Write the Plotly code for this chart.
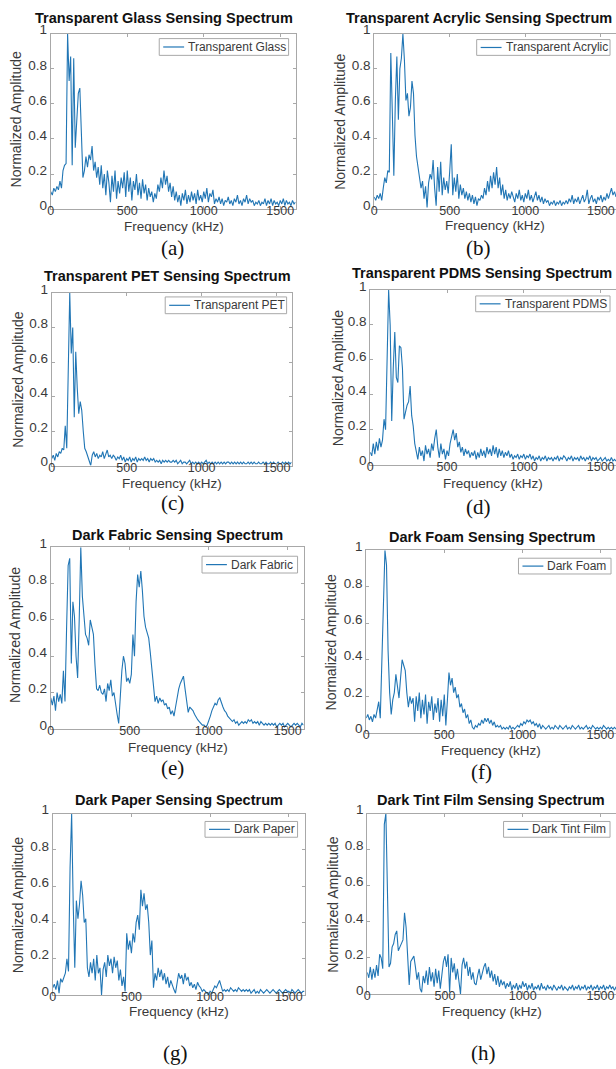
import plotly.graph_objects as go

# ---------------- data ----------------
FREQ_KHZ = list(range(0, 1601, 10))

GLASS = [
    0.10, 0.08, 0.12, 0.10, 0.13, 0.11, 0.16, 0.12, 0.22, 0.25,
    0.26, 1.00, 0.73, 0.87, 0.25, 0.86, 0.35, 0.52, 0.66, 0.69,
    0.38, 0.18, 0.22, 0.30, 0.24, 0.31, 0.28, 0.36, 0.22, 0.27,
    0.18, 0.24, 0.14, 0.25, 0.12, 0.20, 0.08, 0.22, 0.15, 0.04,
    0.19, 0.10, 0.22, 0.06, 0.16, 0.09, 0.18, 0.12, 0.21, 0.07,
    0.22, 0.10, 0.18, 0.05, 0.16, 0.11, 0.20, 0.08, 0.15, 0.06,
    0.17, 0.09, 0.14, 0.05, 0.12, 0.07, 0.10, 0.04, 0.09, 0.06,
    0.14, 0.10, 0.18, 0.12, 0.22, 0.14, 0.19, 0.10, 0.15, 0.07,
    0.13, 0.05, 0.10, 0.04, 0.08, 0.02, 0.09, 0.05, 0.11, 0.03,
    0.08, 0.04, 0.10, 0.05, 0.09, 0.03, 0.11, 0.05, 0.08, 0.04,
    0.10, 0.06, 0.12, 0.04, 0.09, 0.07, 0.11, 0.03, 0.06, 0.04,
    0.07, 0.03, 0.06, 0.02, 0.05, 0.04, 0.07, 0.03, 0.05, 0.02,
    0.06, 0.04, 0.08, 0.03, 0.05, 0.02, 0.06, 0.04, 0.08, 0.03,
    0.06, 0.04, 0.05, 0.02, 0.04, 0.03, 0.05, 0.02, 0.04, 0.03,
    0.06, 0.02, 0.05, 0.03, 0.06, 0.02, 0.05, 0.03, 0.04, 0.02,
    0.05, 0.03, 0.06, 0.02, 0.05, 0.03, 0.04, 0.02, 0.05, 0.03,
    0.04,
]

ACRYLIC = [
    0.07, 0.05, 0.08, 0.06, 0.09, 0.05, 0.12, 0.18, 0.15, 0.22,
    0.21, 0.89, 0.55, 0.19, 0.62, 0.87, 0.51, 0.80, 0.86, 1.00,
    0.85, 0.62, 0.66, 0.53, 0.58, 0.73, 0.66, 0.42, 0.30, 0.24,
    0.19, 0.12, 0.16, 0.06, 0.13, 0.01, 0.15, 0.20, 0.17, 0.28,
    0.12, 0.02, 0.24, 0.10, 0.27, 0.08, 0.18, 0.11, 0.16, 0.09,
    0.22, 0.37, 0.08, 0.18, 0.10, 0.20, 0.06, 0.14, 0.08, 0.12,
    0.06, 0.10, 0.05, 0.09, 0.04, 0.08, 0.03, 0.07, 0.02, 0.06,
    0.05, 0.08, 0.06, 0.12, 0.08, 0.16, 0.10, 0.19, 0.12, 0.21,
    0.14, 0.24, 0.12, 0.18, 0.08, 0.14, 0.06, 0.11, 0.05, 0.09,
    0.06, 0.10, 0.07, 0.04, 0.09, 0.06, 0.11, 0.05, 0.08, 0.04,
    0.09, 0.06, 0.11, 0.05, 0.08, 0.04, 0.07, 0.10, 0.05, 0.08,
    0.04, 0.07, 0.03, 0.06, 0.04, 0.05, 0.02, 0.04, 0.03, 0.05,
    0.02, 0.04, 0.03, 0.05, 0.02, 0.04, 0.03, 0.05, 0.03, 0.06,
    0.04, 0.08, 0.03, 0.06, 0.04, 0.07, 0.03, 0.05, 0.08, 0.04,
    0.06, 0.11, 0.03, 0.06, 0.08, 0.04, 0.06, 0.03, 0.07, 0.05,
    0.08, 0.04, 0.07, 0.05, 0.09, 0.06, 0.10, 0.12, 0.08, 0.10,
    0.07,
]

PET = [
    0.04, 0.06, 0.03, 0.07, 0.05, 0.08, 0.07, 0.10, 0.09, 0.23,
    0.10, 0.50, 1.00, 0.65, 0.80, 0.28, 0.66, 0.45, 0.30, 0.37,
    0.32, 0.20, 0.10, 0.08, 0.05, 0.03, 0.00, 0.06, 0.08, 0.05,
    0.07, 0.04, 0.06, 0.05, 0.08, 0.04, 0.07, 0.09, 0.05, 0.06,
    0.04, 0.06, 0.05, 0.03, 0.05, 0.04, 0.06, 0.03, 0.05, 0.02,
    0.04, 0.03, 0.05, 0.02, 0.04, 0.03, 0.05, 0.02, 0.04, 0.03,
    0.04, 0.03, 0.05, 0.03, 0.04, 0.02, 0.04, 0.03, 0.04, 0.02,
    0.03, 0.02, 0.03, 0.01, 0.03, 0.02, 0.03, 0.02, 0.03, 0.02,
    0.02, 0.03, 0.02, 0.03, 0.01, 0.02, 0.03, 0.01, 0.02, 0.02,
    0.01, 0.02, 0.03, 0.01, 0.02, 0.01, 0.02, 0.01, 0.02, 0.01,
    0.02, 0.01, 0.02, 0.03, 0.01, 0.02, 0.01, 0.02, 0.01, 0.02,
    0.01, 0.02, 0.01, 0.02, 0.01, 0.02, 0.01, 0.02, 0.02, 0.01,
    0.02, 0.01, 0.02, 0.01, 0.02, 0.01, 0.02, 0.01, 0.02, 0.01,
    0.01, 0.02, 0.01, 0.02, 0.01, 0.02, 0.01, 0.01, 0.02, 0.01,
    0.01, 0.02, 0.01, 0.02, 0.01, 0.01, 0.02, 0.01, 0.02, 0.01,
    0.01, 0.02, 0.01, 0.01, 0.02, 0.01, 0.02, 0.01, 0.02, 0.01,
    0.02,
]

PDMS = [
    0.07, 0.05, 0.12, 0.06, 0.13, 0.08, 0.15, 0.10, 0.14, 0.26,
    0.20, 0.60, 1.00, 0.80, 0.25, 0.55, 0.76, 0.50, 0.47, 0.68,
    0.67, 0.55, 0.26, 0.30, 0.34, 0.36, 0.45, 0.28, 0.22, 0.12,
    0.07, 0.03, 0.10, 0.05, 0.08, 0.02, 0.11, 0.06, 0.09, 0.04,
    0.12, 0.08, 0.15, 0.20, 0.10, 0.04, 0.12, 0.06, 0.09, 0.03,
    0.08, 0.05, 0.12, 0.16, 0.20, 0.14, 0.18, 0.10, 0.13, 0.07,
    0.10, 0.05, 0.09, 0.06, 0.08, 0.04, 0.07, 0.05, 0.08, 0.03,
    0.07, 0.04, 0.09, 0.05, 0.08, 0.04, 0.10, 0.06, 0.09, 0.05,
    0.11, 0.06, 0.10, 0.04, 0.09, 0.05, 0.08, 0.04, 0.07, 0.05,
    0.08, 0.04, 0.06, 0.03, 0.05, 0.04, 0.06, 0.03, 0.05, 0.04,
    0.06, 0.03, 0.05, 0.04, 0.06, 0.03, 0.05, 0.02, 0.04, 0.03,
    0.05, 0.02, 0.04, 0.03, 0.05, 0.02, 0.04, 0.03, 0.04, 0.02,
    0.04, 0.03, 0.05, 0.02, 0.04, 0.03, 0.05, 0.04, 0.02, 0.04,
    0.03, 0.05, 0.02, 0.04, 0.03, 0.04, 0.02, 0.05, 0.03, 0.04,
    0.02, 0.04, 0.03, 0.05, 0.02, 0.04, 0.03, 0.04, 0.02, 0.03,
    0.04, 0.02, 0.03, 0.04, 0.02, 0.03, 0.02, 0.04, 0.02, 0.03,
    0.02,
]

FABRIC = [
    0.17, 0.13, 0.18, 0.10, 0.20, 0.15, 0.19, 0.14, 0.32, 0.15,
    0.55, 0.90, 0.94, 0.36, 0.70, 0.62, 0.40, 0.28, 0.60, 1.00,
    0.73, 0.62, 0.52, 0.50, 0.46, 0.60, 0.55, 0.52, 0.35, 0.22,
    0.21, 0.24, 0.20, 0.19, 0.22, 0.15, 0.25, 0.21, 0.27, 0.18,
    0.20, 0.13, 0.08, 0.03, 0.20, 0.32, 0.40, 0.36, 0.26, 0.28,
    0.25, 0.30, 0.52, 0.40, 0.70, 0.85, 0.78, 0.87, 0.76, 0.62,
    0.56, 0.53, 0.50, 0.42, 0.33, 0.25, 0.15, 0.18, 0.14, 0.17,
    0.15, 0.16, 0.13, 0.14, 0.11, 0.12, 0.08, 0.10, 0.07, 0.12,
    0.18, 0.22, 0.25, 0.27, 0.29, 0.22, 0.15, 0.09, 0.12, 0.11,
    0.10, 0.08, 0.06, 0.05, 0.04, 0.03, 0.02, 0.02, 0.01, 0.02,
    0.04, 0.07, 0.10, 0.12, 0.14, 0.13, 0.16, 0.17, 0.14, 0.12,
    0.10, 0.09, 0.07, 0.06, 0.05, 0.04, 0.05, 0.03, 0.04, 0.02,
    0.03, 0.04, 0.03, 0.04, 0.03, 0.05, 0.04, 0.05, 0.03, 0.04,
    0.03, 0.04, 0.02, 0.04, 0.03, 0.02, 0.03, 0.02, 0.03, 0.02,
    0.03, 0.02, 0.03, 0.01, 0.02, 0.03, 0.02, 0.03, 0.01, 0.02,
    0.03, 0.02, 0.01, 0.02, 0.03, 0.02, 0.03, 0.02, 0.01, 0.03,
    0.02,
]

FOAM = [
    0.08, 0.10, 0.07, 0.09, 0.06, 0.10, 0.08, 0.12, 0.17, 0.08,
    0.42, 0.70, 1.00, 0.92, 0.45, 0.22, 0.10, 0.18, 0.22, 0.32,
    0.26, 0.19, 0.30, 0.40, 0.37, 0.34, 0.22, 0.14, 0.20, 0.16,
    0.19, 0.06, 0.20, 0.12, 0.22, 0.08, 0.18, 0.10, 0.21, 0.05,
    0.17, 0.12, 0.20, 0.07, 0.16, 0.11, 0.19, 0.06, 0.18, 0.09,
    0.21, 0.04, 0.18, 0.33, 0.26, 0.30, 0.22, 0.25, 0.19, 0.21,
    0.14, 0.16, 0.11, 0.13, 0.08, 0.10, 0.05, 0.07, 0.03, 0.02,
    0.04, 0.03, 0.05, 0.04, 0.07, 0.05, 0.08, 0.06, 0.08, 0.05,
    0.07, 0.04, 0.06, 0.03, 0.04, 0.03, 0.04, 0.02, 0.03, 0.02,
    0.03, 0.02, 0.04, 0.02, 0.03, 0.02, 0.03, 0.04, 0.03, 0.05,
    0.04, 0.06, 0.05, 0.07, 0.06, 0.07, 0.05, 0.06, 0.04, 0.05,
    0.03, 0.05, 0.02, 0.04, 0.03, 0.02, 0.03, 0.04, 0.02, 0.03,
    0.02, 0.04, 0.03, 0.02, 0.04, 0.03, 0.02, 0.03, 0.04, 0.02,
    0.03, 0.02, 0.04, 0.03, 0.02, 0.03, 0.04, 0.02, 0.03, 0.02,
    0.03, 0.04, 0.02, 0.03, 0.02, 0.04, 0.03, 0.02, 0.03, 0.02,
    0.03, 0.02, 0.04, 0.03, 0.02, 0.03, 0.02, 0.03, 0.02, 0.03,
    0.02,
]

PAPER = [
    0.04, 0.06, 0.03, 0.08, 0.01, 0.09, 0.07, 0.10, 0.12, 0.20,
    0.13, 0.70, 1.00, 0.50, 0.15, 0.52, 0.42, 0.50, 0.63, 0.55,
    0.40, 0.42, 0.15, 0.10, 0.18, 0.12, 0.20, 0.08, 0.22, 0.12,
    0.15, 0.00, 0.14, 0.18, 0.10, 0.22, 0.16, 0.20, 0.12, 0.21,
    0.15, 0.19, 0.08, 0.14, 0.05, 0.10, 0.02, 0.34, 0.25, 0.30,
    0.23, 0.34, 0.29, 0.40, 0.44, 0.36, 0.58, 0.49, 0.56, 0.47,
    0.50, 0.40, 0.22, 0.30, 0.04, 0.12, 0.08, 0.15, 0.10, 0.14,
    0.08, 0.12, 0.06, 0.10, 0.04, 0.08, 0.05, 0.03, 0.01, 0.07,
    0.12, 0.09, 0.11, 0.06, 0.12, 0.08, 0.10, 0.05, 0.07, 0.04,
    0.06, 0.03, 0.07, 0.05, 0.04, 0.02, 0.03, 0.02, 0.01, 0.00,
    0.02, 0.01, 0.03, 0.05, 0.04, 0.06, 0.08, 0.05, 0.02, 0.03,
    0.02, 0.03, 0.02, 0.04, 0.03, 0.02, 0.03, 0.02, 0.04, 0.03,
    0.02, 0.03, 0.02, 0.03, 0.02, 0.03, 0.01, 0.02, 0.03, 0.01,
    0.02, 0.01, 0.03, 0.02, 0.01, 0.02, 0.03, 0.02, 0.01, 0.02,
    0.03, 0.02, 0.01, 0.02, 0.03, 0.02, 0.01, 0.02, 0.03, 0.02,
    0.02, 0.01, 0.03, 0.02, 0.01, 0.02, 0.03, 0.02, 0.01, 0.02,
    0.02,
]

TINT = [
    0.12, 0.09, 0.15, 0.08, 0.14, 0.09, 0.16, 0.10, 0.22, 0.20,
    0.14, 0.94, 1.00, 0.60, 0.15, 0.17, 0.26, 0.28, 0.33, 0.35,
    0.24, 0.26, 0.28, 0.30, 0.45, 0.37, 0.21, 0.05, 0.18, 0.20,
    0.21, 0.15, 0.08, 0.12, 0.03, 0.01, 0.10, 0.06, 0.13, 0.05,
    0.15, 0.07, 0.12, 0.04, 0.14, 0.06, 0.13, 0.03, 0.11, 0.18,
    0.21, 0.15, 0.22, 0.01, 0.20, 0.12, 0.17, 0.08, 0.14, 0.05,
    0.00, 0.16, 0.20, 0.14, 0.18, 0.10, 0.15, 0.08, 0.12, 0.06,
    0.05, 0.10, 0.14, 0.08, 0.12, 0.15, 0.17, 0.11, 0.15, 0.09,
    0.13, 0.07, 0.11, 0.05, 0.10, 0.04, 0.08, 0.05, 0.07, 0.03,
    0.06, 0.04, 0.07, 0.02, 0.05, 0.03, 0.06, 0.02, 0.05, 0.03,
    0.07, 0.04, 0.06, 0.02, 0.05, 0.03, 0.06, 0.02, 0.04, 0.03,
    0.05, 0.02, 0.06, 0.03, 0.04, 0.02, 0.05, 0.03, 0.04, 0.02,
    0.05, 0.03, 0.02, 0.04, 0.03, 0.05, 0.02, 0.04, 0.03, 0.02,
    0.04, 0.03, 0.05, 0.02, 0.04, 0.03, 0.05, 0.02, 0.04, 0.03,
    0.05, 0.02, 0.04, 0.03, 0.05, 0.02, 0.04, 0.03, 0.05, 0.02,
    0.04, 0.03, 0.05, 0.02, 0.04, 0.03, 0.05, 0.03, 0.04, 0.02,
    0.04,
]

SERIES_NAMES = ["Transparent Glass", "Transparent Acrylic", "Transparent PET",
                "Transparent PDMS", "Dark Fabric", "Dark Foam",
                "Dark Paper", "Dark Tint Film"]
SERIES_VALUES = [GLASS, ACRYLIC, PET, PDMS, FABRIC, FOAM, PAPER, TINT]
PANEL_LABELS = ["(a)", "(b)", "(c)", "(d)", "(e)", "(f)", "(g)", "(h)"]
X_TICKS = [0, 500, 1000, 1500]
Y_TICKS = [0, 0.2, 0.4, 0.6, 0.8, 1]
Y_TICK_TEXT = ["0", "0.2", "0.4", "0.6", "0.8", "1"]

# ---------------- layout geometry (pixels) ----------------
W, H = 616, 1069
# axes box: left, right, top, bottom, x-range end, right column?
AXES = [
    (48, 294, 23, 201, 1600, False),
    (373, 616, 23, 201, 1600, True),
    (49, 290, 286, 461, 1600, False),
    (369, 616, 283, 460, 1600, True),
    (48, 302, 544, 728, 1600, False),
    (365, 616, 547, 732, 1600, True),
    (50, 303, 814, 998, 1600, False),
    (366, 616, 814, 997, 1600, True),
]
TITLE_POS = [(162, 7), (478, 7), (165, 269), (481, 266),
             (175, 531), (491, 533), (177, 800), (490, 800)]
XTITLE_POS = [(172, 219), (494, 218), (170, 479), (492, 479),
              (176, 747), (490, 750), (177, 1015), (491, 1015)]
YTITLE_POS = [(14, 110), (339, 112), (15, 374), (336, 372),
              (12, 633), (330, 640), (15, 907), (332, 906)]
LABEL_POS = [(170, 240), (478, 240), (170, 499), (478, 503),
             (170, 768), (481, 772), (173, 1057), (483, 1057)]
LEGEND_BOX = [(157, 287, 28, 45), (476, 610, 29, 45), (163, 285, 290, 307),
              (475, 610, 289, 305), (200, 296, 553, 570), (518, 611, 555, 571),
              (203, 296, 822, 838), (503, 610, 822, 838)]

BLUE = "#2176b5"
AXIS_COL = "#a8a8a8"
TEXT_COL = "#3a3a3a"
SANS = "Liberation Sans, Arial, sans-serif"
SERIF = "Liberation Serif, Times New Roman, serif"


def px(xp):
    return xp / W


def py(yp):
    return 1 - yp / H


fig = go.Figure()
layout = dict(
    width=W, height=H, margin=dict(l=0, r=0, t=0, b=0),
    paper_bgcolor="white", plot_bgcolor="white", showlegend=False,
    font=dict(family=SANS, color=TEXT_COL),
)
annotations = []
shapes = []

for i, (name, vals) in enumerate(zip(SERIES_NAMES, SERIES_VALUES)):
    n = i + 1
    l, r, t, b, xend, right_col = AXES[i]
    xa = "x" if n == 1 else f"x{n}"
    ya = "y" if n == 1 else f"y{n}"
    fig.add_trace(go.Scatter(
        x=FREQ_KHZ, y=vals, mode="lines", name=name,
        line=dict(color=BLUE, width=1.1),
        xaxis=xa, yaxis=ya, hoverinfo="x+y",
    ))
    layout["xaxis" if n == 1 else f"xaxis{n}"] = dict(
        domain=[px(l), px(r)], anchor=ya, range=[0, xend],
        tickvals=X_TICKS, ticks="inside", ticklen=3, tickcolor=AXIS_COL,
        showline=True, linecolor=AXIS_COL, linewidth=1, mirror="ticks",
        showgrid=False, zeroline=False, ticklabelstandoff=-10,
        tickfont=dict(size=12.5, color=TEXT_COL, family=SANS),
    )
    layout["yaxis" if n == 1 else f"yaxis{n}"] = dict(
        domain=[py(b), py(t)], anchor=xa, range=[0, 1],
        tickvals=Y_TICKS, ticktext=Y_TICK_TEXT, ticks="inside", ticklen=3,
        tickcolor=AXIS_COL, showline=True, linecolor=AXIS_COL, linewidth=1,
        mirror=False if right_col else "ticks",
        showgrid=False, zeroline=False, ticklabelshift=-4,
        tickfont=dict(size=13.5, color=TEXT_COL, family=SANS),
    )

    # title
    tx, ty = TITLE_POS[i]
    annotations.append(dict(
        text=f"<b>{name} Sensing Spectrum</b>", x=px(tx), y=py(ty),
        xref="paper", yref="paper", xanchor="center", yanchor="middle",
        showarrow=False, borderpad=0,
        font=dict(size=14.5, color="#111111", family=SANS)))
    # axis titles
    xx, xy = XTITLE_POS[i]
    annotations.append(dict(
        text="Frequency (kHz)", x=px(xx), y=py(xy), xref="paper", yref="paper",
        xanchor="center", yanchor="middle", showarrow=False,
        font=dict(size=13.5, color=TEXT_COL, family=SANS)))
    yx, yy = YTITLE_POS[i]
    annotations.append(dict(
        text="Normalized Amplitude", x=px(yx), y=py(yy), xref="paper",
        yref="paper", xanchor="center", yanchor="middle", textangle=-90,
        showarrow=False, font=dict(size=14, color=TEXT_COL, family=SANS)))
    # panel label
    lx, ly = LABEL_POS[i]
    annotations.append(dict(
        text=PANEL_LABELS[i], x=px(lx), y=py(ly), xref="paper", yref="paper",
        xanchor="center", yanchor="middle", showarrow=False,
        font=dict(size=21, color="#111111", family=SERIF)))
    # legend box
    gl, gr, gt, gb = LEGEND_BOX[i]
    shapes.append(dict(type="rect", xref="paper", yref="paper",
                       x0=px(gl), x1=px(gr), y0=py(gb), y1=py(gt),
                       line=dict(color=AXIS_COL, width=1), fillcolor="white",
                       layer="above"))
    ymid = (gt + gb) / 2
    shapes.append(dict(type="line", xref="paper", yref="paper",
                       x0=px(gl + 4), x1=px(gl + 25), y0=py(ymid), y1=py(ymid),
                       line=dict(color=BLUE, width=1.2), layer="above"))
    annotations.append(dict(
        text=name, x=px(gl + 27), y=py(ymid), xref="paper", yref="paper",
        xanchor="left", yanchor="middle", showarrow=False,
        font=dict(size=12, color=TEXT_COL, family=SANS)))

layout["annotations"] = annotations
layout["shapes"] = shapes
fig.update_layout(**layout)
fig.write_html(
    "out.html",
    config={"displayModeBar": False},
    post_script="document.body.style.margin='0';"
                "document.body.style.overflow='hidden';",
)
